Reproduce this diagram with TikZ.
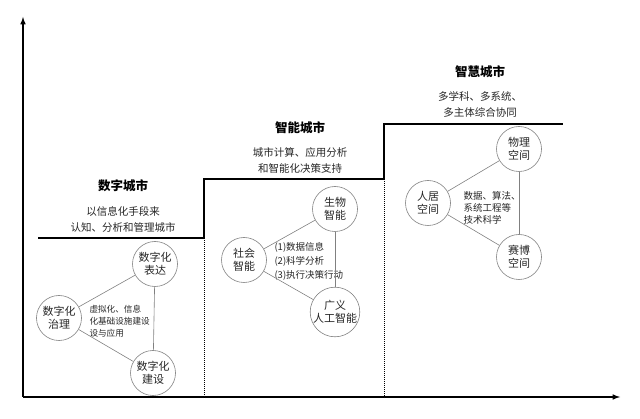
\documentclass[tikz,border=0pt]{standalone}
\usepackage{fontspec}
\setmainfont{Noto Sans CJK SC}
\usetikzlibrary{arrows.meta,positioning,calc}

\begin{document}
\begin{tikzpicture}[x=1pt,y=-1pt,>=latex,
   ax/.style={line width=1.5pt},
   stp/.style={line width=1.4pt},
   sep/.style={densely dotted,line width=1pt},
   nd/.style={circle,draw=gray,line width=0.6pt,minimum size=45pt,inner sep=0pt,align=center,text=black!85,font=\fontsize{11}{13}\selectfont},
   ttl/.style={font=\fontsize{12.5}{14}\selectfont\bfseries},
   dsc/.style={align=center,text=black!85,font=\fontsize{10.5}{16}\selectfont},
   inr/.style={align=left,anchor=west,text=black!85,font=\fontsize{9.5}{14}\selectfont},
   ln/.style={draw=gray,line width=0.6pt}]
  \useasboundingbox (0,0) rectangle (640,419);
  % axes
  \coordinate (o) at (23,397);
  \coordinate (ytip) at (23,17);
  \coordinate (xtip) at (620,397);
  \draw[ax,->] (o)--(ytip);
  \draw[ax,->] (o)--(xtip);
  % steps and separators
  \draw[stp] (38,238) -| (204,179) -| (384,124) -- (563,124);
  \draw[sep] (204,238)--(204,397);
  \draw[sep] (384,179)--(384,397);
  % digital city
  \node[ttl] (t1) at (123,186) {数字城市};
  \node[dsc] (d1) at (123,219) {以信息化手段来\\认知、分析和管理城市};
  \node[nd] (a1) at (155,264) {数字化\\表达};
  \node[nd] (a2) at (59,318) {数字化\\治理};
  \node[nd] (a3) at (153,373) {数字化\\建设};
  \node[inr,font=\fontsize{8.6}{12.2}\selectfont] (i1) at (86,321) {虚拟化、信息\\化基础设施建设\\设与应用};
  \draw[ln] (a1)--(a2);
  \draw[ln] (a2)--(a3);
  \draw[ln] (a1)--(a3);
  % intelligent city
  \node[ttl] (t2) at (300,128) {智能城市};
  \node[dsc] (d2) at (300,160) {城市计算、应用分析\\和智能化决策支持};
  \node[nd] (b1) at (335,209) {生物\\智能};
  \node[nd] (b2) at (244,260) {社会\\智能};
  \node[nd] (b3) at (335,312) {广义\\人工智能};
  \node[inr] (i2) at (271,261) {(1)数据信息\\(2)科学分析\\(3)执行决策行动};
  \draw[ln] (b1)--(b2);
  \draw[ln] (b2)--(b3);
  \draw[ln] (b1)--(b3);
  % smart city
  \node[ttl] (t3) at (480,72) {智慧城市};
  \node[dsc] (d3) at (480,104) {多学科、多系统、\\多主体综合协同};
  \node[nd] (c1) at (519,149) {物理\\空间};
  \node[nd] (c2) at (428,203) {人居\\空间};
  \node[nd] (c3) at (519,257) {赛博\\空间};
  \node[inr,font=\fontsize{9.5}{12}\selectfont] (i3) at (460,208) {数据、算法、\\系统工程等\\技术科学};
  \draw[ln] (c1)--(c2);
  \draw[ln] (c2)--(c3);
  \draw[ln] (c1)--(c3);
\end{tikzpicture}
\end{document}
